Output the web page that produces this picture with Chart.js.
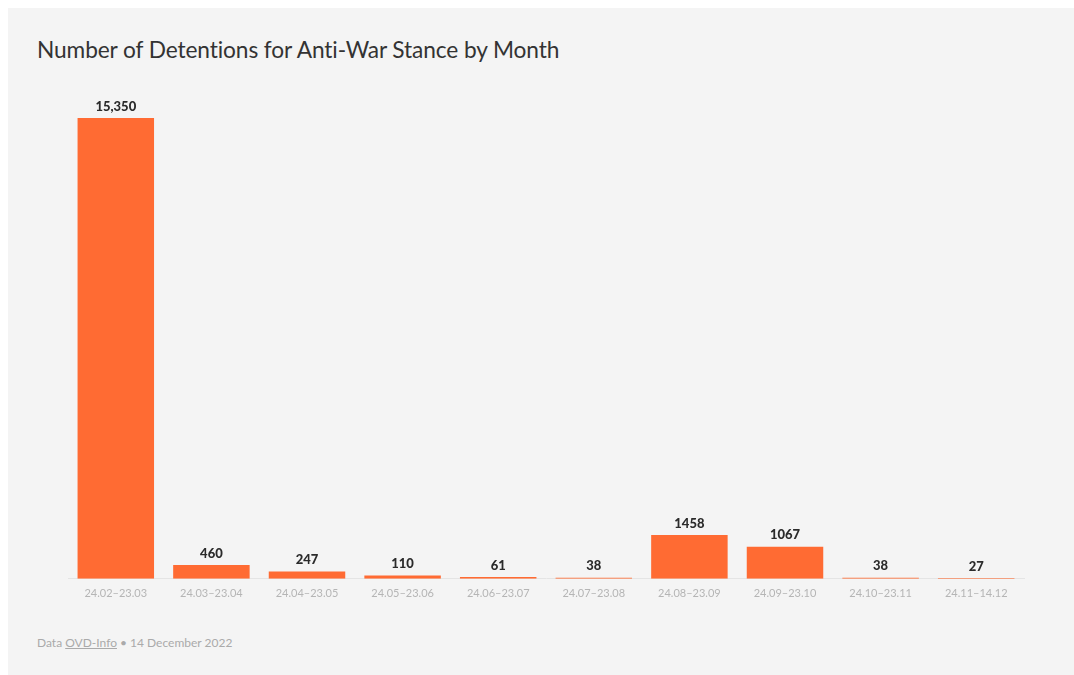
<!DOCTYPE html>
<html>
<head>
<meta charset="utf-8">
<script src="https://cdn.jsdelivr.net/npm/chart.js@4.4.0/dist/chart.umd.min.js"></script>
<style>
  html, body { margin: 0; padding: 0; background: #ffffff; }
  body { width: 1074px; height: 675px; position: relative; overflow: hidden; font-family: Lato, "Noto Sans", sans-serif; }
  #card { position: absolute; left: 8px; top: 8px; width: 1066px; height: 667px; background: #f4f4f4; }
  #title { position: absolute; left: 29px; top: 28px; font-size: 22.7px; color: #333333; white-space: nowrap; letter-spacing: -0.1px; }
  #wrap { position: absolute; left: 0; top: 72px; width: 1066px; height: 540px; }
  #footer { position: absolute; left: 29px; top: 627px; font-size: 12px; color: #aaaaaa; white-space: nowrap; }
  #footer a { color: #aaaaaa; text-decoration: underline; }
</style>
</head>
<body>
<div id="card">
  <div id="title">Number of Detentions for Anti-War Stance by Month</div>
  <div id="wrap"><canvas id="c"></canvas></div>
  <div id="footer">Data <a>OVD-Info</a> • 14 December 2022</div>
</div>
<script>
const categories = ["24.02–23.03","24.03–23.04","24.04–23.05","24.05–23.06","24.06–23.07","24.07–23.08","24.08–23.09","24.09–23.10","24.10–23.11","24.11–14.12"];
const detentions = [15350, 460, 247, 110, 61, 38, 1458, 1067, 38, 27];
const valueLabels = ["15,350","460","247","110","61","38","1458","1067","38","27"];

const barLabels = {
  id: 'barLabels',
  afterDatasetsDraw(chart) {
    const ctx = chart.ctx;
    const meta = chart.getDatasetMeta(0);
    ctx.save();
    ctx.font = '900 13px Lato, "Noto Sans", sans-serif';
    ctx.fillStyle = '#2b2b2b';
    ctx.textAlign = 'center';
    ctx.textBaseline = 'bottom';
    meta.data.forEach((bar, i) => {
      ctx.fillText(valueLabels[i], bar.x, bar.y - 5);
    });
    ctx.restore();
  }
};

new Chart(document.getElementById('c'), {
  type: 'bar',
  data: {
    labels: categories,
    datasets: [{
      data: detentions,
      backgroundColor: '#ff6b33',
      borderWidth: 0,
      categoryPercentage: 0.8,
      barPercentage: 1.0
    }]
  },
  options: {
    responsive: true,
    maintainAspectRatio: false,
    animation: false,
    layout: { padding: { left: 60, right: 50, top: 38, bottom: 12 } },
    plugins: { legend: { display: false }, tooltip: { enabled: false } },
    scales: {
      x: {
        grid: { display: false, drawTicks: false },
        border: { display: true, color: '#e4e4e4', width: 1 },
        ticks: { color: '#b5b5b5', font: { size: 11, family: 'Lato, "Noto Sans", sans-serif' }, padding: 8, maxRotation: 0, autoSkip: false }
      },
      y: {
        display: false,
        min: 0,
        max: 15350
      }
    }
  },
  plugins: [barLabels]
});
</script>
</body>
</html>
